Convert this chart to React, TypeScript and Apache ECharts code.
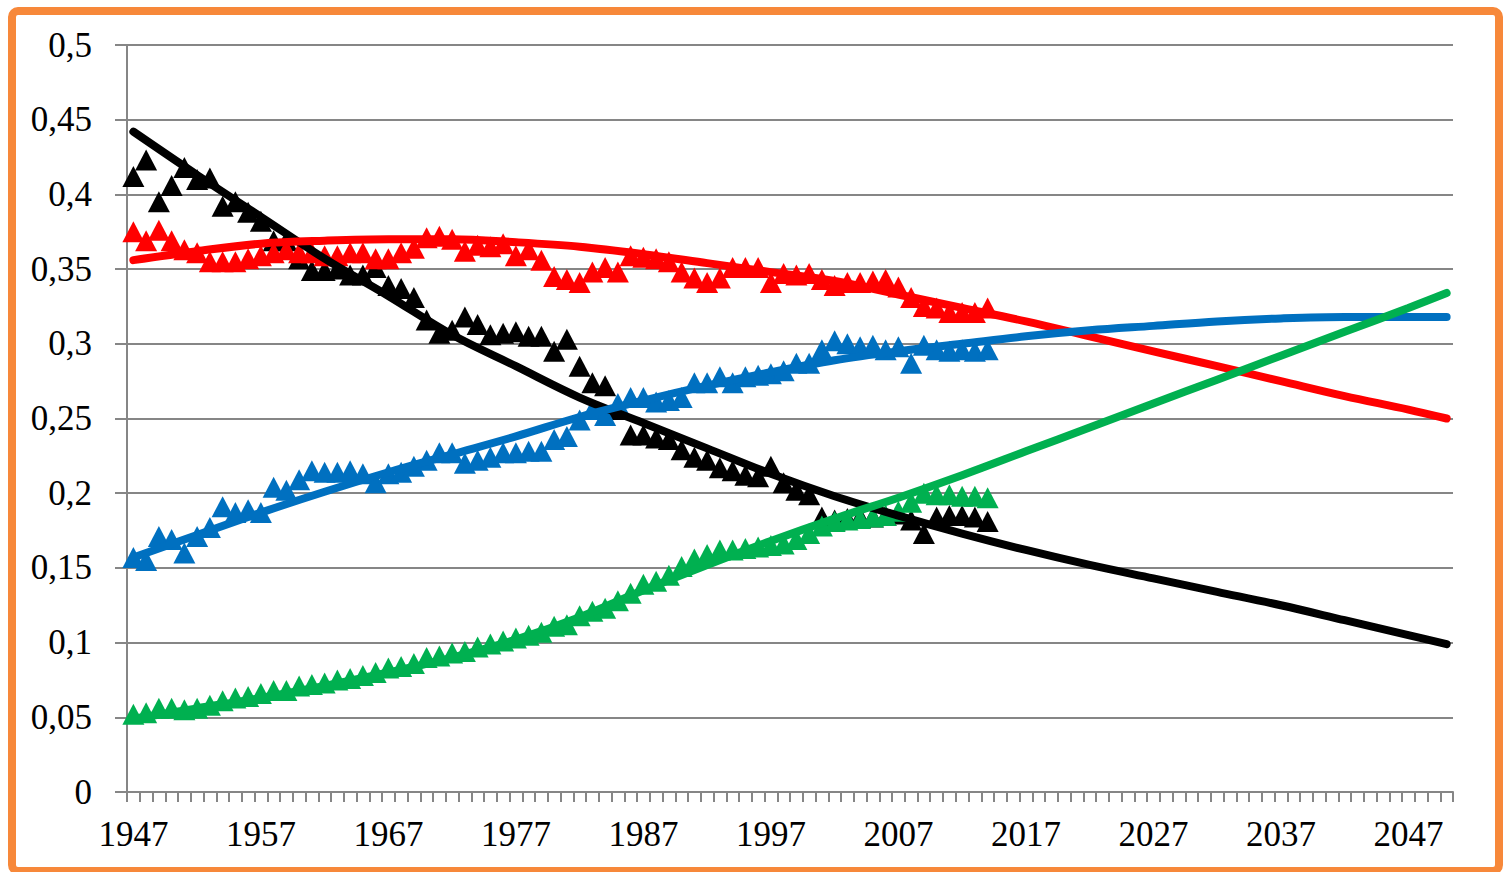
import React, { useEffect, useRef } from "react";
import * as echarts from "echarts";

const firstYear = 1947;
const lastYear = 2050;
const categories: string[] = [];
for (let y = firstYear; y <= lastYear; y++) categories.push(String(y));

const yTickLabels = ["0", "0,05", "0,1", "0,15", "0,2", "0,25", "0,3", "0,35", "0,4", "0,45", "0,5"];

// observed values, 1947 .. 2014
const blackObserved = [
  0.412, 0.423, 0.395, 0.406, 0.418, 0.410, 0.411, 0.392, 0.395, 0.388,
  0.382, 0.369, 0.369, 0.357, 0.349, 0.349, 0.350, 0.346, 0.346, 0.351,
  0.339, 0.337, 0.331, 0.316, 0.307, 0.309, 0.318, 0.313, 0.306, 0.307,
  0.308, 0.305, 0.305, 0.295, 0.303, 0.285, 0.274, 0.272, 0.256, 0.239,
  0.239, 0.237, 0.236, 0.229, 0.224, 0.222, 0.217, 0.215, 0.212, 0.211,
  0.218, 0.207, 0.202, 0.199, 0.184, 0.182, 0.183, 0.184, 0.184, 0.185,
  0.186, 0.182, 0.173, 0.184, 0.185, 0.185, 0.184, 0.181,
];
const redObserved = [
  0.375, 0.369, 0.376, 0.369, 0.363, 0.361, 0.355, 0.355, 0.355, 0.357,
  0.359, 0.361, 0.363, 0.361, 0.361, 0.359, 0.359, 0.361, 0.361, 0.357,
  0.357, 0.361, 0.364, 0.371, 0.372, 0.370, 0.362, 0.366, 0.365, 0.367,
  0.359, 0.363, 0.356, 0.345, 0.343, 0.341, 0.348, 0.351, 0.348, 0.359,
  0.358, 0.357, 0.355, 0.348, 0.344, 0.341, 0.344, 0.351, 0.351, 0.351,
  0.341, 0.347, 0.346, 0.347, 0.343, 0.339, 0.341, 0.341, 0.342, 0.343,
  0.338, 0.331, 0.325, 0.324, 0.321, 0.321, 0.321, 0.324,
];
const blueObserved = [
  0.157, 0.155, 0.171, 0.169, 0.160, 0.171, 0.177, 0.191, 0.187, 0.189,
  0.187, 0.204, 0.202, 0.209, 0.215, 0.214, 0.214, 0.215, 0.213, 0.207,
  0.213, 0.214, 0.218, 0.222, 0.227, 0.227, 0.220, 0.222, 0.224, 0.227,
  0.227, 0.228, 0.228, 0.236, 0.238, 0.249, 0.256, 0.252, 0.260, 0.264,
  0.264, 0.261, 0.262, 0.264, 0.274, 0.274, 0.278, 0.274, 0.278, 0.279,
  0.280, 0.282, 0.287, 0.287, 0.296, 0.302, 0.300, 0.298, 0.299, 0.296,
  0.298, 0.287, 0.299, 0.296, 0.295, 0.296, 0.295, 0.296,
];
const greenObserved = [
  0.052, 0.053, 0.056, 0.056, 0.055, 0.056, 0.058, 0.061, 0.063, 0.064,
  0.066, 0.068, 0.068, 0.071, 0.072, 0.073, 0.075, 0.076, 0.078, 0.080,
  0.083, 0.084, 0.086, 0.090, 0.091, 0.093, 0.094, 0.097, 0.099, 0.101,
  0.103, 0.105, 0.107, 0.111, 0.112, 0.118, 0.121, 0.123, 0.128, 0.133,
  0.139, 0.141, 0.145, 0.151, 0.156, 0.159, 0.162, 0.162, 0.163, 0.164,
  0.165, 0.166, 0.169, 0.173, 0.178, 0.181, 0.182, 0.183, 0.184, 0.185,
  0.188, 0.194, 0.200, 0.199, 0.199, 0.198, 0.198, 0.197,
];

// trend curves, read at these years
const trendYears = [
  "1947", "1952", "1957", "1962", "1967", "1972", "1977", "1982", "1987", "1992", "1997",
  "2002", "2007", "2012", "2017", "2022", "2027", "2032", "2037", "2042", "2047", "2050",
];
const blackTrend = [
  0.442, 0.413, 0.385, 0.357, 0.332, 0.306, 0.285, 0.264, 0.247, 0.230, 0.213,
  0.198, 0.185, 0.173, 0.162, 0.152, 0.143, 0.134, 0.125, 0.115, 0.105, 0.099,
];
const redTrend = [
  0.356, 0.362, 0.367, 0.369, 0.370, 0.370, 0.368, 0.365, 0.360, 0.354, 0.348,
  0.342, 0.333, 0.324, 0.315, 0.305, 0.295, 0.285, 0.275, 0.265, 0.256, 0.250,
];
const blueTrend = [
  0.157, 0.172, 0.187, 0.201, 0.214, 0.226, 0.238, 0.251, 0.262, 0.272, 0.281,
  0.289, 0.295, 0.300, 0.305, 0.309, 0.312, 0.315, 0.317, 0.318, 0.318, 0.318,
];
const greenTrend = [
  0.049, 0.056, 0.063, 0.071, 0.080, 0.090, 0.102, 0.117, 0.135, 0.152, 0.168,
  0.183, 0.197, 0.212, 0.228, 0.244, 0.260, 0.276, 0.292, 0.308, 0.324, 0.334,
];

const BLACK = "#000000";
const RED = "#FF0000";
const BLUE = "#0070C0";
const GREEN = "#00B050";
const GRID_GRAY = "#868686";
const FONT = "'Liberation Serif', 'Times New Roman', serif";

export default function App() {
  const ref = useRef<HTMLDivElement>(null);

  useEffect(() => {
    if (!ref.current) return;
    const chart = echarts.init(ref.current, null, { renderer: "svg" });

    const pairs = (vals: number[]) => trendYears.map((y, i) => [y, vals[i]]);
    const build = (color: string, obs: number[], trend: number[]) => [
      {
        type: "scatter",
        data: obs,
        symbol: "triangle",
        symbolSize: [22, 21],
        itemStyle: { color, opacity: 1 },
        silent: true,
      },
      {
        type: "line",
        data: pairs(trend),
        smooth: 0.35,
        showSymbol: false,
        symbol: "none",
        lineStyle: { color, width: 8, cap: "round" },
        silent: true,
      },
    ];

    chart.setOption({
      animation: false,
      backgroundColor: "#ffffff",
      grid: { left: 127, right: 50, top: 45, bottom: 80, containLabel: false },
      xAxis: {
        type: "category",
        data: categories,
        boundaryGap: true,
        axisLine: { show: true, lineStyle: { color: GRID_GRAY, width: 2 } },
        axisTick: { show: true, interval: 0, length: 10, lineStyle: { color: GRID_GRAY, width: 2 } },
        axisLabel: { interval: 9, fontSize: 35, fontFamily: FONT, color: "#000", margin: 25 },
        splitLine: { show: false },
      },
      yAxis: {
        type: "value",
        min: 0,
        max: 0.5,
        interval: 0.05,
        axisLine: { show: true, lineStyle: { color: GRID_GRAY, width: 2 } },
        axisTick: { show: true, length: 12, lineStyle: { color: GRID_GRAY, width: 2 } },
        axisLabel: {
          fontSize: 35,
          fontFamily: FONT,
          color: "#000",
          margin: 35,
          formatter: (v: number) => yTickLabels[Math.round(v / 0.05)] ?? "",
        },
        splitLine: { show: true, lineStyle: { color: GRID_GRAY, width: 2 } },
      },
      graphic: [
        {
          type: "rect",
          shape: { x: 12, y: 11, width: 1487, height: 860, r: 6 },
          style: { fill: "none", stroke: "#F7883A", lineWidth: 8 },
          silent: true,
          z: 100,
        },
      ],
      series: [
        ...build(BLACK, blackObserved, blackTrend),
        ...build(RED, redObserved, redTrend),
        ...build(BLUE, blueObserved, blueTrend),
        ...build(GREEN, greenObserved, greenTrend),
      ],
    });

    return () => chart.dispose();
  }, []);

  return (
    <div style={{ position: "fixed", left: 0, top: 0, width: 1503, height: 872, background: "#fff" }}>
      <div ref={ref} style={{ width: 1503, height: 872 }} />
    </div>
  );
}
